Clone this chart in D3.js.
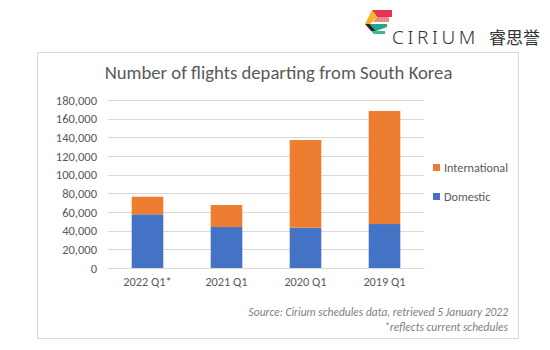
<!DOCTYPE html>
<html>
<head>
<meta charset="utf-8">
<script src="https://d3js.org/d3.v7.min.js"></script>
<style>
  body { margin: 0; background: #fff; }
  text { font-family: Carlito, "Open Sans", "Liberation Sans", sans-serif; }
</style>
</head>
<body>
<div id="container"></div>
<script>
/***** data *****/
let quarters = ["2022 Q1*", "2021 Q1", "2020 Q1", "2019 Q1"];
let domestic = [57500, 43900, 43200, 47100];
let international = [18900, 23600, 93900, 121100];
let seriesNames = ["International", "Domestic"];
let yTicks = [0, 20000, 40000, 60000, 80000, 100000, 120000, 140000, 160000, 180000];

let width = 550, height = 350;

let svg = d3.select("#container")
  .append("svg")
    .attr("width", width)
    .attr("height", height);

// logo
let logo = svg.append("g").attr("transform", "translate(365,10)");
logo.append("polygon").attr("points", "7,0 27,0 27,7 12,7").attr("fill", "#e8344e");
logo.append("polygon").attr("points", "7,0 12,7 5,14 0,14").attr("fill", "#f5b323");
logo.append("polygon").attr("points", "0,14 5,14 11,21 6,21").attr("fill", "#2a2a2a");
logo.append("polygon").attr("points", "12,7 24,7 24,12 8,12").attr("fill", "#f08a8a");
logo.append("polygon").attr("points", "5,14 10,14 22,14 22,17 11,21").attr("fill", "#1fa88a");
logo.append("polygon").attr("points", "6,21 11,21 20,21 20,24 9,24").attr("fill", "#38b79b");
svg.append("text")
  .attr("x", 392).attr("y", 44)
  .style("font-family", "'Noto Sans', sans-serif")
  .style("font-size", "19px")
  .style("font-weight", 300)
  .style("letter-spacing", "3.6px")
  .attr("fill", "#333")
  .text("CIRIUM");
svg.append("text")
  .attr("x", 489).attr("y", 44)
  .style("font-family", "'Noto Sans CJK SC', sans-serif")
  .style("font-size", "17px")
  .attr("fill", "#333")
  .text("睿思誉");

// chart frame
svg.append("rect")
  .attr("x", 37.5).attr("y", 52.5)
  .attr("width", 481).attr("height", 286)
  .attr("fill", "#fff")
  .attr("stroke", "#d9d9d9");

svg.append("text")
  .attr("x", 278.5).attr("y", 79)
  .attr("text-anchor", "middle")
  .style("font-size", "18.7px")
  .attr("fill", "#595959")
  .text("Number of flights departing from South Korea");

let margin = {left: 108, right: 424, top: 100, bottom: 268};

let x = d3.scaleBand()
  .domain(quarters)
  .range([margin.left, margin.right])
  .paddingInner(0.6)
  .paddingOuter(0.3);

let y = d3.scaleLinear()
  .domain([0, 180000])
  .range([margin.bottom, margin.top]);

// gridlines
svg.append("g")
  .selectAll("line")
  .data(yTicks)
  .join("line")
    .attr("x1", margin.left).attr("x2", margin.right)
    .attr("y1", d => Math.round(y(d)) + 0.5)
    .attr("y2", d => Math.round(y(d)) + 0.5)
    .attr("stroke", "#d9d9d9");

// Y axis
let yAxis = svg.append("g")
  .attr("transform", "translate(" + (margin.left - 5) + ",0)")
  .call(d3.axisLeft(y).tickValues(yTicks).tickFormat(d3.format(",")).tickSize(0).tickPadding(6));
yAxis.select(".domain").remove();
yAxis.selectAll("text")
  .style("font-size", "12.5px")
  .style("font-family", "Carlito, 'Open Sans', sans-serif")
  .attr("fill", "#595959");

// stacked bars
let rows = quarters.map((q, i) => ({q: q, Domestic: domestic[i], International: international[i]}));
let stack = d3.stack().keys(["Domestic", "International"])(rows);
let colors = {Domestic: "#4472c4", International: "#ed7d31"};

svg.append("g")
  .selectAll("g")
  .data(stack)
  .join("g")
    .attr("fill", s => colors[s.key])
  .selectAll("rect")
  .data(s => s)
  .join("rect")
    .attr("x", d => x(d.data.q))
    .attr("width", x.bandwidth())
    .attr("y", d => y(d[1]))
    .attr("height", d => y(d[0]) - y(d[1]));

// X axis
let xAxis = svg.append("g")
  .attr("transform", "translate(0," + margin.bottom + ")")
  .call(d3.axisBottom(x).tickSize(0).tickPadding(9));
xAxis.select(".domain").attr("stroke", "#d9d9d9");
xAxis.selectAll("text")
  .style("font-size", "12.3px")
  .style("font-family", "Carlito, 'Open Sans', sans-serif")
  .attr("fill", "#595959");

// legend
let legend = svg.append("g")
  .selectAll("g")
  .data(seriesNames)
  .join("g")
    .attr("transform", (d, i) => "translate(433," + (164 + i * 29) + ")");
legend.append("rect")
  .attr("width", 7).attr("height", 7)
  .attr("fill", d => colors[d]);
legend.append("text")
  .attr("x", 11).attr("y", 7.5)
  .style("font-size", "12.2px")
  .attr("fill", "#595959")
  .text(d => d);

// source
svg.append("text")
  .attr("x", 508).attr("y", 316)
  .attr("text-anchor", "end")
  .style("font-size", "11.5px")
  .style("font-style", "italic")
  .attr("fill", "#7f7f7f")
  .text("Source:  Cirium schedules data, retrieved 5 January  2022");
svg.append("text")
  .attr("x", 508).attr("y", 331)
  .attr("text-anchor", "end")
  .style("font-size", "11.5px")
  .style("font-style", "italic")
  .attr("fill", "#7f7f7f")
  .text("*reflects current schedules");
</script>
</body>
</html>
